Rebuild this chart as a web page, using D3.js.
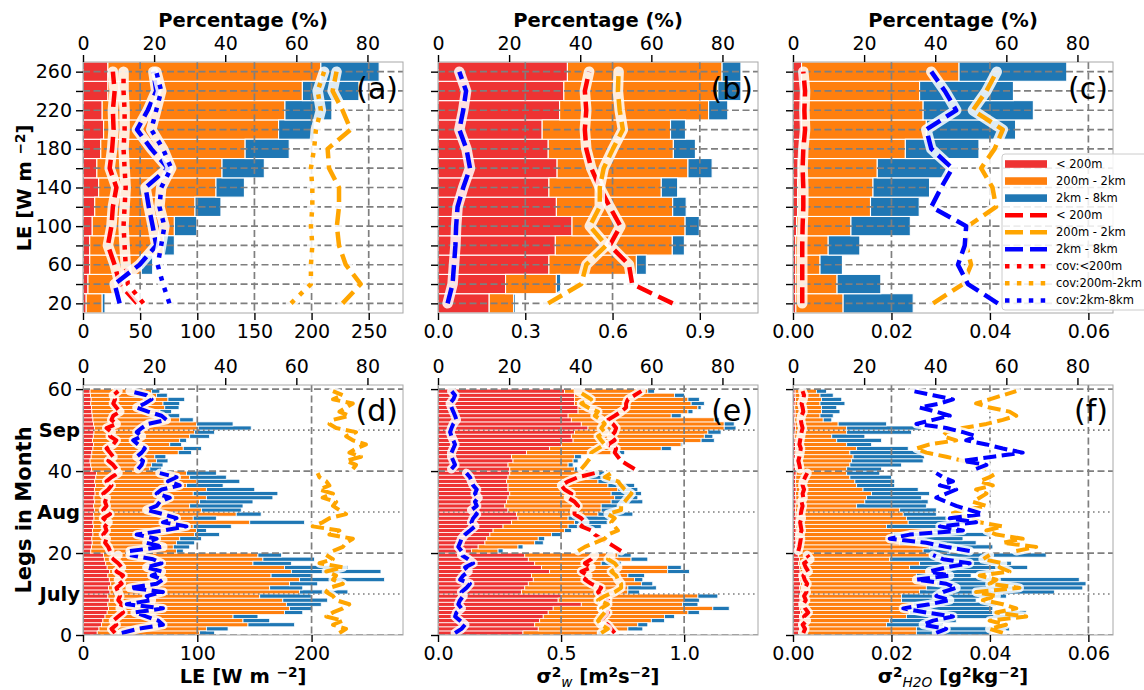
<!DOCTYPE html>
<html><head><meta charset="utf-8">
<script src="https://cdn.jsdelivr.net/npm/d3@7"></script>
<style>body{margin:0;background:#fff}svg{display:block;font-family:"DejaVu Sans",sans-serif}</style>
</head><body><svg id="c" width="1144" height="690"></svg>
<script>
// ---------- categories & ticks ----------
const leBins = [20,40,60,80,100,120,140,160,180,200,220,240,260];
const leLabelTicks = [20,60,100,140,180,220,260];
const pctTicks = [0,20,40,60,80];
const legTicks = [0,20,40,60];
const monthNames = ["July","Aug","Sep"];
const monthPos = [10,30,50];
const legs = d3.range(60);

// ---------- top row: binned by LE (percent of layer) ----------
const aRed    = [0.9,1.4,1.9,1.9,2.6,3.3,4.4,3.9,5.0,5.8,5.4,7.0,7.0];
const aOrange = [4.5,10.2,14.5,20.7,23.1,28.2,33.0,35.2,40.6,49.2,51.4,54.7,59.9];
const aBlue   = [0.8,0.5,3.2,3.1,6.3,7.3,8.0,11.9,12.4,10.0,13.2,15.9,16.4];
const aRedLine    = [15.2,10.3,8.9,7.0,8.0,8.4,9.4,7.5,8.2,8.6,8.4,8.9,8.4];
const aOrangeLine = [73.0,78.1,73.9,72.0,71.4,72.0,72.0,69.2,68.8,75.3,73.0,70.2,71.3];
const aBlueLine   = [10.3,8.9,15.9,20.6,19.6,18.5,17.6,23.9,19.2,15.2,18.2,20.6,19.8];
const aRedCov     = [17.0,12.6,12.0,11.7,11.4,11.7,12.0,11.7,11.4,11.7,11.7,11.4,11.4];
const aOrangeCov  = [58.5,64.1,64.1,64.5,64.1,64.5,64.5,64.1,65.0,65.5,66.9,66.0,67.8];
const aBlueCov    = [24.3,22.5,21.0,22.0,22.9,21.5,22.0,24.8,22.5,19.2,20.6,22.0,20.6];

const bRed    = [14.4,19.0,31.2,33.0,37.7,33.3,31.2,33.5,31.0,29.3,34.2,35.4,36.4];
const bOrange = [6.9,14.3,24.6,32.9,31.8,32.7,31.6,36.8,35.2,36.1,41.9,43.3,43.5];
const bBlue   = [0.5,1.2,2.8,3.4,4.0,3.8,4.6,6.8,6.2,4.2,5.4,6.5,5.3];
const bRedLine    = [66.0,54.6,53.7,48.3,51.3,48.3,45.5,43.1,41.7,41.3,41.7,41.3,42.5];
const bOrangeLine = [31.0,40.3,41.7,47.3,42.7,45.5,45.5,46.6,49.2,52.0,51.1,50.6,50.8];
const bBlueLine   = [2.7,4.1,4.5,4.9,5.1,5.5,7.1,9.0,8.0,6.0,7.1,7.9,6.0];

const cRed    = [0.8,0.8,0.8,0.8,1.0,1.3,1.3,1.5,2.0,2.4,2.4,2.4,2.4];
const cOrange = [13.3,11.6,6.8,9.1,15.3,20.5,21.2,22.2,29.6,35.1,34.2,33.2,44.3];
const cBlue   = [19.7,12.3,6.3,8.9,16.7,13.7,15.9,19.4,20.7,25.1,31.0,26.4,30.3];
const cRedLine    = [2.6,2.6,2.6,2.6,2.7,2.9,2.9,2.7,2.9,3.4,3.2,3.4,2.9];
const cOrangeLine = [39.4,47.8,50.1,48.7,49.2,57.1,56.1,52.9,56.7,59.0,50.6,54.4,57.3];
const cBlueLine   = [57.6,49.2,46.4,48.3,48.7,38.9,41.7,44.8,38.9,37.5,45.9,42.7,38.9];

// ---------- bottom row: per leg ----------
const dRed = [4.0,4.5,5.2,5.6,6.2,6.8,7.2,7.0,7.4,7.0,7.6,7.2,7.8,7.4,7.0,7.5,6.8,6.4,6.0,5.8, 2.2,2.4,2.6,2.5,2.8,2.7,3.0,2.8,3.1,3.0,3.2,3.0,3.3,3.1,3.4,3.2,3.5,3.3,3.6,3.8, 2.4,2.2,2.0,2.3,2.5,2.8,3.0,2.7,2.9,3.1,3.2,3.0,2.8,2.6,2.5,2.4,2.2,2.3,2.1,2.0];
const dOrange = [28.8,30.2,41.2,39.4,36.0,49.9,50.9,50.2,48.8,42.7,53.3,45.3,50.3,53.5,45.9,51.1,49.9,41.4,44.6,43.4, 24.1,23.0,23.7,24.7,28.6,29.2,28.0,44.1,27.9,40.1,30.1,27.0,29.5,31.6,27.6,31.5,25.6,28.6,26.4,25.3, 16.4,17.1,18.7,17.9,24.3,25.4,21.4,24.5,27.1,28.3,29.2,28.9,24.4,21.3,19.1,20.6,20.3,21.6,18.6,17.3];
const dBlue = [4.2,6.1,13.1,7.5,7.0,5.1,6.5,9.8,12.6,14.5,13.6,9.3,7.9,23.9,11.3,25.2,17.8,10.8,14.5,6.6, 1.9,4.6,5.1,6.1,7.0,2.8,10.7,15.4,6.5,7.0,11.2,15.0,15.0,18.7,23.8,13.6,10.3,12.2,10.3,8.4, 3.3,3.2,3.2,3.1,3.7,5.1,3.3,1.9,5.6,5.6,14.9,10.3,3.8,3.3,3.3,4.0,4.7,4.7,3.0,2.3];
const dRedLine = [9.0,8.0,9.4,8.5,9.9,11.3,10.4,10.9,9.9,10.4,9.9,9.4,10.9,9.9,11.3,9.4,10.9,9.9,8.5,9.9, 7.6,7.1,6.2,6.6,5.7,6.6,6.2,7.1,5.7,7.6,5.7,6.6,6.2,6.6,5.7,7.1,8.0,6.6,8.0,9.9, 9.4,8.5,7.1,8.5,7.6,6.6,8.5,9.4,7.6,8.0,6.6,9.4,8.0,8.5,10.4,9.4,8.5,9.0,8.5,9.9];
const dOrangeLine = [72.1,74.0,70.3,73.1,68.4,70.3,73.1,74.9,71.2,70.3,68.4,69.3,73.1,70.3,71.2,68.4,73.1,66.5,70.3,68.4, 70.3,73.1,74.0,75.9,69.3,72.1,64.6,67.4,69.3,74.0,72.1,70.3,71.2,67.4,70.3,66.5,69.3,68.4,66.5,66.0, 75.9,76.8,74.0,78.2,74.9,76.8,79.6,75.9,74.0,76.8,71.2,69.3,70.3,74.9,72.1,74.0,75.9,70.3,73.1,70.3];
const dBlueLine = [10.9,15.5,22.5,21.2,17.9,14.6,22.5,12.3,19.3,17.9,22.5,13.2,20.7,22.5,19.3,22.1,17.9,22.1,19.7,13.2, 13.2,22.5,17.9,20.7,15.1,22.5,29.1,22.5,26.3,22.5,17.9,20.7,21.6,24.4,20.7,22.1,27.2,23.9,26.3,21.6, 15.5,16.5,16.9,15.1,16.5,17.4,15.5,14.1,16.5,15.1,16.5,18.3,23.5,22.1,18.3,15.1,17.4,19.3,17.9,13.2];

const eRed = [23.9,28.2,27.2,28.6,29.6,31.0,32.4,40.3,33.8,34.7,23.5,24.4,25.4,26.8,26.3,31.4,29.1,27.2,25.4,24.4, 9.4,11.3,13.2,13.7,14.6,15.5,18.3,20.7,22.5,22.1,19.7,18.8,19.3,19.7,20.2,19.7,19.7,19.3,19.7,20.2, 20.2,19.7,21.1,20.7,24.9,31.4,34.7,38.0,37.5,38.4,42.2,40.3,37.5,36.6,39.4,39.4,38.4,38.4,38.4,35.6];
const eOrange = [21.1,25.2,29.0,31.4,34.1,39.3,44.9,28.5,35.5,38.4,29.9,29.0,31.8,28.5,27.1,33.2,35.5,18.7,28.9,26.2, 7.5,11.2,14.0,14.5,17.3,20.1,18.3,17.7,14.1,22.9,26.2,27.1,29.4,30.0,28.5,30.9,28.1,25.7,22.5,22.9, 18.2,16.9,16.9,17.7,24.8,31.4,33.7,36.0,37.4,37.5,38.3,40.2,40.2,29.0,30.9,33.7,32.8,31.9,28.1,23.4];
const eBlue = [0.9,4.2,2.8,3.7,2.8,3.2,4.6,4.3,4.2,5.6,3.3,8.0,3.2,2.3,4.7,6.1,3.8,5.6,4.7,3.7, 1.4,1.4,2.4,1.8,2.8,1.9,9.3,9.4,11.7,9.8,4.2,5.6,8.9,6.5,8.5,5.6,7.5,6.5,6.5,3.8, 1.0,1.4,1.4,1.9,2.8,2.8,0.4,3.7,2.4,3.7,3.3,2.8,1.4,2.8,1.4,0.9,3.7,3.2,2.8,1.9];
const eRedLine = [49.7,48.7,47.8,45.9,46.9,47.8,45.9,46.9,47.8,45.9,45.0,45.9,43.1,41.3,42.2,40.3,43.1,41.3,43.1,44.1, 51.5,49.7,47.8,45.9,44.1,43.1,40.3,41.3,40.3,38.4,38.4,39.4,38.4,36.6,37.5,35.6,34.7,36.6,39.4,44.1, 55.3,53.4,51.5,50.6,49.7,50.1,47.8,49.7,48.7,49.7,50.1,49.2,47.8,49.7,51.5,52.9,52.9,53.4,55.3,57.2];
const eOrangeLine = [45.9,47.8,45.9,45.0,45.9,46.9,45.9,47.8,45.0,46.9,49.7,51.5,51.5,50.6,50.1,48.7,50.6,49.7,47.8,48.7, 39.4,41.3,44.1,46.9,47.8,50.6,49.7,48.7,49.7,47.8,51.5,51.5,52.5,53.4,54.4,52.5,51.5,50.6,46.9,48.7, 40.3,41.3,42.2,43.1,43.1,45.0,46.9,45.9,45.0,46.9,45.9,46.9,45.9,44.1,45.0,42.2,40.3,43.1,41.3,39.4];
const eBlueLine = [4.8,6.6,7.6,6.2,4.8,5.2,6.6,5.7,6.2,7.1,6.6,8.0,9.0,6.2,7.1,8.5,7.6,9.9,8.5,6.6, 6.6,5.7,6.2,6.6,7.6,9.0,10.4,9.4,9.9,10.9,9.4,10.9,10.4,11.3,10.4,10.9,9.9,9.4,9.0,8.0, 3.8,4.8,4.3,3.8,3.8,4.3,4.8,4.3,3.8,3.4,3.8,4.3,5.2,4.8,4.3,3.8,3.4,4.3,4.8,3.8];

const fRed = [1.6,1.9,1.7,2.0,1.8,2.1,1.9,1.7,2.0,1.8,2.2,1.9,2.1,1.8,1.7,2.0,1.9,1.6,1.8,1.5, 0.8,0.7,0.9,0.8,0.8,0.9,0.7,0.8,0.9,0.8,0.7,0.8,0.9,0.8,0.7,0.9,0.8,0.7,0.8,0.9, 0.7,0.6,0.6,0.7,0.6,0.7,0.7,0.6,0.5,0.6,0.7,0.6,0.5,0.6,0.6,0.5,0.6,0.7,0.6,0.6];
const fOrange = [33.1,32.8,24.6,25.2,30.1,30.7,29.1,32.1,28.5,28.7,33.4,35.6,38.2,36.6,33.0,41.1,30.9,34.0,25.4,36.9, 35.8,37.7,29.1,33.9,27.4,38.5,25.6,31.6,31.0,30.2,29.3,17.1,19.3,19.9,21.4,18.8,17.1,16.7,15.2,14.2, 14.4,15.4,15.9,16.2,15.4,17.2,14.4,11.7,10.4,14.5,14.4,12.1,8.0,7.0,7.4,7.5,7.0,7.3,7.0,6.0];
const fBlue = [20.6,26.2,15.9,18.7,33.7,32.8,25.2,23.4,21.0,29.5,37.9,44.0,42.1,42.1,15.4,13.6,33.2,25.8,29.0,32.8, 7.5,17.8,21.5,13.1,27.1,8.9,19.6,16.3,19.2,9.3,10.3,19.6,17.8,15.4,16.3,15.5,10.7,11.2,11.7,9.3, 9.8,14.5,20.1,20.1,22.9,14.5,7.0,12.6,9.3,18.2,21.0,13.6,2.4,3.7,5.2,4.3,7.0,5.7,3.7,2.8];
const fRedLine = [2.9,3.4,2.7,3.8,3.1,4.3,3.4,2.9,3.6,3.1,3.8,3.4,4.0,3.3,2.9,4.3,3.6,3.1,4.8,4.0, 1.5,1.8,2.0,2.2,2.0,2.4,2.2,2.0,2.4,2.2,2.4,2.7,2.4,2.9,2.7,3.1,2.7,2.9,3.4,4.0, 2.0,1.8,1.5,1.8,2.0,2.2,1.8,2.0,2.2,2.4,2.7,2.4,2.2,2.4,2.9,2.7,2.4,2.9,3.1,2.7];
const fOrangeLine = [59.0,55.3,59.9,55.3,65.6,57.2,62.8,59.0,53.4,57.2,51.5,63.7,55.3,57.2,52.5,60.9,58.1,59.0,53.4,55.3, 62.8,68.4,59.0,64.6,57.2,54.4,59.0,52.5,50.6,44.1,47.8,54.4,50.6,52.5,54.4,51.5,56.2,52.5,55.3,57.2, 54.4,51.5,47.8,43.1,37.5,34.7,38.4,45.9,42.2,43.1,47.8,54.4,59.0,62.8,60.9,55.3,51.5,55.3,59.0,62.8];
const fBlueLine = [40.3,43.1,36.6,39.4,45.0,37.5,31.0,38.4,44.1,40.3,42.2,45.9,43.1,34.7,44.1,38.4,43.1,49.7,42.2,39.4, 49.7,43.1,37.5,27.2,32.8,47.8,41.3,51.5,44.1,53.4,49.7,45.9,43.1,40.3,43.1,45.9,41.3,45.0,42.2,40.3, 51.5,54.4,47.8,56.2,64.6,59.0,54.4,48.7,51.5,47.8,43.1,34.7,39.4,44.1,40.3,35.6,41.3,45.0,39.4,33.8];

const legendBars  = ["< 200m","200m - 2km","2km - 8km"];
const legendLines = ["< 200m","200m - 2km","2km - 8km"];
const legendCov   = ["cov:<200m","cov:200m-2km","cov:2km-8km"];

// ---------- drawing ----------
const svg = d3.select('#c');
const PW = 320;
const lefts = [83, 438, 793];
const barC = {red:'#ee3333', orange:'#ff7f0e', blue:'#1f77b4'};
const lineC = {red:'#ff0000', orange:'#ffa500', blue:'#0000ff'};
const GRID = '#7f7f7f';
const TICKFS = 19;

function styleAxis(sel){
  sel.select('.domain').remove();
  sel.selectAll('.tick line').attr('stroke','#000').attr('stroke-width',1.4);
  sel.selectAll('.tick text').attr('fill','#000').attr('font-size',TICKFS).attr('font-family','DejaVu Sans, sans-serif');
}

function panel(cfg){
  const h = cfg.y1 - cfg.y0;
  const g = svg.append('g').attr('transform',`translate(${cfg.left},${cfg.y0})`);
  const xp = d3.scaleLinear().domain([0,90]).range([0,PW]);
  const xb = d3.scaleLinear().domain(cfg.xDomain).range([0,PW]);
  const y = d3.scaleLinear().domain(cfg.yDomain).range([h,0]);
  const cid = 'clip_'+cfg.id;
  g.append('clipPath').attr('id',cid).append('rect').attr('width',PW).attr('height',h);
  const inner = g.append('g').attr('clip-path',`url(#${cid})`);

  const rowsData = cfg.cats.map((c,k)=>({c, red:cfg.red[k], orange:cfg.orange[k], blue:cfg.blue[k]}));
  const stacked = d3.stack().keys(['red','orange','blue'])(rowsData);
  stacked.forEach(s=>{
    inner.append('g').selectAll('rect').data(s).join('rect')
      .attr('x',d=>xp(d[0]))
      .attr('width',d=>Math.max(0,xp(d[1])-xp(d[0])))
      .attr('y',d=>y(cfg.hi(d.data.c)))
      .attr('height',d=>y(cfg.lo(d.data.c))-y(cfg.hi(d.data.c)))
      .attr('fill',barC[s.key])
      .attr('stroke','#fff').attr('stroke-width',cfg.barStroke);
  });

  // grid
  const gg = inner.append('g').attr('stroke',GRID).attr('stroke-width',1.7).attr('stroke-dasharray','7,3.5').attr('fill','none');
  cfg.gridY.forEach(v=>gg.append('line').attr('x1',0).attr('x2',PW).attr('y1',y(v)).attr('y2',y(v)));
  cfg.xTicks.forEach(v=>gg.append('line').attr('x1',xb(v)).attr('x2',xb(v)).attr('y1',0).attr('y2',h));
  if(cfg.dotY){
    const dg = inner.append('g').attr('stroke',GRID).attr('stroke-width',1.6).attr('stroke-dasharray','1.6,3.4');
    cfg.dotY.forEach(v=>dg.append('line').attr('x1',0).attr('x2',PW).attr('y1',y(v)).attr('y2',y(v)));
  }

  // lines with white halo
  const line = d3.line().x(d=>xp(d.v)).y(d=>y(d.c)).curve(d3.curveLinear);
  cfg.lines.forEach(L=>{
    cfg.segments.forEach(([s,e])=>{
      const pts = cfg.cats.slice(s,e).map((c,k)=>({c:cfg.mid(c), v:L.vals[s+k]}));
      inner.append('path').attr('d',line(pts)).attr('fill','none')
        .attr('stroke','#fff').attr('stroke-opacity',0.85).attr('stroke-width',cfg.halo)
        .attr('stroke-linejoin','round').attr('stroke-linecap','round');
      inner.append('path').attr('d',line(pts)).attr('fill','none')
        .attr('stroke',lineC[L.color]).attr('stroke-width',cfg.lw)
        .attr('stroke-dasharray',L.dotted?cfg.dot:cfg.dash).attr('stroke-linejoin','round');
    });
  });

  // frame
  g.append('rect').attr('width',PW).attr('height',h).attr('fill','none').attr('stroke','#a8a8a8').attr('stroke-width',1);

  // axes
  g.append('g').call(d3.axisTop(xp).tickValues(pctTicks).tickSize(7).tickPadding(5).tickFormat(d3.format('d'))).call(styleAxis);
  g.append('g').attr('transform',`translate(0,${h})`)
    .call(d3.axisBottom(xb).tickValues(cfg.xTicks).tickSize(7).tickPadding(4.5).tickFormat(cfg.xFmt)).call(styleAxis);
  g.append('g').call(d3.axisLeft(y).tickValues(cfg.yTicks).tickSize(7).tickPadding(4)
    .tickFormat(d=>cfg.yLabelled && cfg.yLabelled.includes(d) ? String(d) : '')).call(styleAxis);

  // panel label
  g.append('text').attr('x',PW-5).attr('y',cfg.labelY).attr('text-anchor','end')
    .attr('font-size',30).attr('fill','#000').text(`(${cfg.id})`);

  return {g, y, xp, xb, h};
}

const topBase = {y0:62, y1:313, cats:leBins, yDomain:[10,270], lo:c=>c-10, hi:c=>c+10, mid:c=>c,
  barStroke:1.1, gridY:leBins, yTicks:leBins, segments:[[0,13]], lw:4.5, halo:10.5,
  dash:'16,7', dot:'4.5,7.4', labelY:37};
const botBase = {y0:385, y1:635, cats:legs, yDomain:[0,61], lo:c=>c, hi:c=>c+1, mid:c=>c+0.5,
  barStroke:0.8, gridY:legTicks, yTicks:legTicks, dotY:monthPos, segments:[[0,20],[20,40],[40,60]],
  lw:4, halo:9, dash:'13,5.5', dot:'4,6.6', labelY:36};

panel(Object.assign({}, topBase, {id:'a', left:lefts[0], red:aRed, orange:aOrange, blue:aBlue,
  xDomain:[0,280], xTicks:[0,50,100,150,200,250], xFmt:d3.format('d'), yLabelled:leLabelTicks,
  lines:[{vals:aRedLine,color:'red'},{vals:aRedCov,color:'red',dotted:true},
         {vals:aOrangeLine,color:'orange'},{vals:aOrangeCov,color:'orange',dotted:true},
         {vals:aBlueLine,color:'blue'},{vals:aBlueCov,color:'blue',dotted:true}]}));
panel(Object.assign({}, topBase, {id:'b', left:lefts[1], red:bRed, orange:bOrange, blue:bBlue,
  xDomain:[0,1.1], xTicks:[0,0.3,0.6,0.9], xFmt:d3.format('.1f'),
  lines:[{vals:bRedLine,color:'red'},{vals:bOrangeLine,color:'orange'},{vals:bBlueLine,color:'blue'}]}));
panel(Object.assign({}, topBase, {id:'c', left:lefts[2], red:cRed, orange:cOrange, blue:cBlue,
  xDomain:[0,0.065], xTicks:[0,0.02,0.04,0.06], xFmt:d3.format('.2f'),
  lines:[{vals:cRedLine,color:'red'},{vals:cOrangeLine,color:'orange'},{vals:cBlueLine,color:'blue'}]}));

const pd = panel(Object.assign({}, botBase, {id:'d', left:lefts[0], red:dRed, orange:dOrange, blue:dBlue,
  xDomain:[0,280], xTicks:[0,100,200], xFmt:d3.format('d'), yLabelled:legTicks,
  lines:[{vals:dRedLine,color:'red'},{vals:dOrangeLine,color:'orange'},{vals:dBlueLine,color:'blue'}]}));
panel(Object.assign({}, botBase, {id:'e', left:lefts[1], red:eRed, orange:eOrange, blue:eBlue,
  xDomain:[0,1.3], xTicks:[0,0.5,1.0], xFmt:d3.format('.1f'),
  lines:[{vals:eRedLine,color:'red'},{vals:eOrangeLine,color:'orange'},{vals:eBlueLine,color:'blue'}]}));
panel(Object.assign({}, botBase, {id:'f', left:lefts[2], red:fRed, orange:fOrange, blue:fBlue,
  xDomain:[0,0.065], xTicks:[0,0.02,0.04,0.06], xFmt:d3.format('.2f'),
  lines:[{vals:fRedLine,color:'red'},{vals:fOrangeLine,color:'orange'},{vals:fBlueLine,color:'blue'}]}));

// month labels on (d)
monthNames.forEach((m,k)=>{
  svg.append('text').attr('x',80).attr('y',385+pd.y(monthPos[k])).attr('dy','0.36em')
    .attr('text-anchor','end').attr('font-size',19.5).attr('font-weight','bold').text(m);
});

// top labels
lefts.forEach(l=>{
  svg.append('text').attr('x',l+PW/2).attr('y',27).attr('text-anchor','middle')
    .attr('font-size',19.5).attr('font-weight','bold').text('Percentage (%)');
});

// rich text helper
function rich(x,y,parts,rotate,fs){
  const t = svg.append('text').attr('font-size',fs).attr('font-weight','bold').attr('text-anchor','middle')
    .attr('transform',`translate(${x},${y})${rotate?' rotate(-90)':''}`);
  let cur = 0;
  parts.forEach(p=>{
    const shift = p.sup ? -0.32*fs : (p.sub ? 0.22*fs : 0);
    const ts = t.append('tspan').attr('dy',shift-cur).text(p.t);
    if(p.sup||p.sub) ts.attr('font-size',fs*0.7);
    if(p.italic) ts.attr('font-style','italic').attr('font-weight','normal');
    cur = shift;
  });
  return t;
}
rich(31,188,[{t:'LE [W m '},{t:'−2',sup:true},{t:']'}],true,19.5);
rich(31,510,[{t:'Legs in Month'}],true,21);
rich(243,683,[{t:'LE [W m '},{t:'−2',sup:true},{t:']'}],false,19.5);
rich(598,683,[{t:'σ'},{t:'2',sup:true},{t:'w',sub:true,italic:true},{t:' [m'},{t:'2',sup:true},{t:'s'},{t:'−2',sup:true},{t:']'}],false,19.5);
rich(953,683,[{t:'σ'},{t:'2',sup:true},{t:'H2O',sub:true,italic:true},{t:' [g'},{t:'2',sup:true},{t:'kg'},{t:'−2',sup:true},{t:']'}],false,19.5);

// legend
const lg = svg.append('g');
lg.append('rect').attr('x',1002).attr('y',154).attr('width',160).attr('height',156).attr('rx',3)
  .attr('fill','#fff').attr('fill-opacity',0.85).attr('stroke','#cccccc');
const keys = ['red','orange','blue'];
const rowY = k => 164 + k*17.05;
keys.forEach((c,k)=>{
  lg.append('rect').attr('x',1005).attr('y',rowY(k)-3.8).attr('width',42).attr('height',7.6).attr('fill',barC[c]);
  lg.append('text').attr('x',1056).attr('y',rowY(k)).attr('dy','0.35em').attr('font-size',11.5).text(legendBars[k]);
});
keys.forEach((c,k)=>{
  const yy = rowY(k+3);
  lg.append('line').attr('x1',1005).attr('x2',1047).attr('y1',yy).attr('y2',yy).attr('stroke',lineC[c])
    .attr('stroke-width',4.5).attr('stroke-dasharray','18,7');
  lg.append('text').attr('x',1056).attr('y',yy).attr('dy','0.35em').attr('font-size',11.5).text(legendLines[k]);
});
keys.forEach((c,k)=>{
  const yy = rowY(k+6);
  lg.append('line').attr('x1',1005).attr('x2',1047).attr('y1',yy).attr('y2',yy).attr('stroke',lineC[c])
    .attr('stroke-width',4.5).attr('stroke-dasharray','4.5,7.4');
  lg.append('text').attr('x',1056).attr('y',yy).attr('dy','0.35em').attr('font-size',11.5).text(legendCov[k]);
});
</script>
</body></html>
